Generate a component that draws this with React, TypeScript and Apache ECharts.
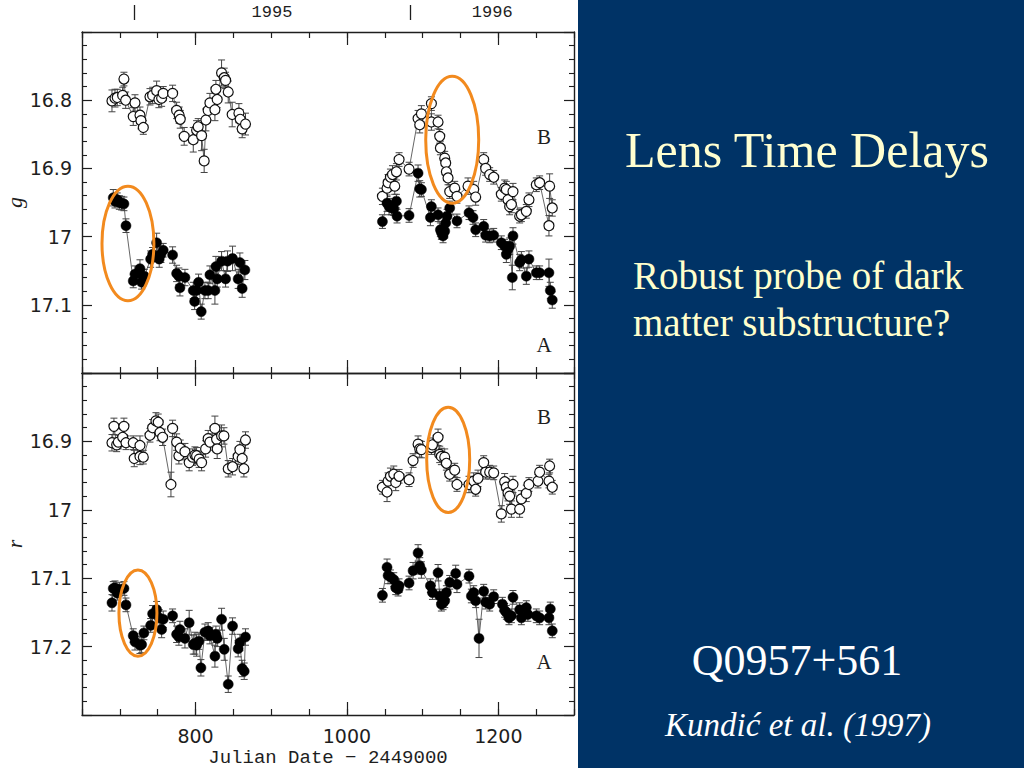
import React, { useEffect, useRef } from 'react';
import * as echarts from 'echarts';

// ---------- data: [Julian Date - 2449000, magnitude, error] ----------
const gB1 = [
  [689.6, 16.801, 0.016], [693.6, 16.797, 0.013], [696.6, 16.796, 0.012], [703.7, 16.793, 0.012],
  [705.4, 16.769, 0.010], [707.7, 16.8, 0.012], [717.7, 16.824, 0.013], [720.0, 16.804, 0.012],
  [726.6, 16.822, 0.012], [727.9, 16.83, 0.012], [731.0, 16.84, 0.010], [739.8, 16.795, 0.012],
  [743.3, 16.793, 0.012], [748.6, 16.786, 0.014], [751.6, 16.799, 0.012], [755.2, 16.797, 0.012],
  [757.3, 16.79, 0.010], [769.7, 16.79, 0.012], [775.0, 16.815, 0.012], [778.4, 16.822, 0.012],
  [779.8, 16.828, 0.013], [785.0, 16.853, 0.013], [797.0, 16.858, 0.018], [801.4, 16.844, 0.014],
  [803.5, 16.839, 0.012], [808.0, 16.852, 0.022], [811.4, 16.889, 0.017], [813.7, 16.829, 0.016],
  [816.7, 16.815, 0.014], [819.0, 16.804, 0.014], [825.6, 16.814, 0.016], [826.9, 16.784, 0.013],
  [828.6, 16.799, 0.012], [834.4, 16.76, 0.019], [837.9, 16.767, 0.014], [839.7, 16.771, 0.012],
  [843.2, 16.788, 0.016], [848.4, 16.821, 0.018], [857.3, 16.819, 0.014], [859.0, 16.828, 0.014],
  [861.6, 16.842, 0.013], [866.0, 16.835, 0.016],
];
const gA1 = [
  [691.3, 16.943, 0.012], [693.6, 16.948, 0.010], [696.6, 16.946, 0.010], [699.3, 16.95, 0.010],
  [702.4, 16.951, 0.010], [705.4, 16.952, 0.010], [708.1, 16.984, 0.010], [717.7, 17.065, 0.010],
  [720.0, 17.055, 0.012], [726.6, 17.047, 0.013], [728.8, 17.067, 0.010], [731.0, 17.06, 0.012],
  [732.3, 17.058, 0.010], [740.7, 17.033, 0.012], [743.3, 17.026, 0.010], [748.6, 17.009, 0.014],
  [752.0, 17.033, 0.012], [754.3, 17.026, 0.012], [757.3, 17.02, 0.010], [769.7, 17.027, 0.012],
  [775.0, 17.054, 0.012], [778.0, 17.058, 0.012], [779.4, 17.075, 0.012], [786.0, 17.06, 0.012],
  [797.0, 17.079, 0.012], [798.8, 17.095, 0.012], [801.4, 17.079, 0.012], [804.0, 17.067, 0.012],
  [807.5, 17.11, 0.011], [812.4, 17.079, 0.012], [816.7, 17.079, 0.012], [819.0, 17.056, 0.013],
  [825.6, 17.079, 0.020], [826.9, 17.044, 0.015], [828.6, 17.062, 0.012], [834.4, 17.036, 0.014],
  [839.7, 17.062, 0.012], [842.3, 17.036, 0.015], [848.9, 17.032, 0.018], [856.3, 17.062, 0.014],
  [858.6, 17.038, 0.014], [861.6, 17.076, 0.013], [865.2, 17.049, 0.014],
];
const gB2 = [
  [1046.9, 16.941, 0.012], [1053.0, 16.929, 0.012], [1054.4, 16.921, 0.012], [1057.5, 16.913, 0.012],
  [1060.2, 16.909, 0.013], [1063.2, 16.926, 0.012], [1065.4, 16.905, 0.012], [1068.9, 16.887, 0.010],
  [1082.1, 16.901, 0.010], [1094.0, 16.827, 0.012], [1096.2, 16.836, 0.012], [1098.4, 16.82, 0.012],
  [1111.6, 16.805, 0.010], [1111.6, 16.832, 0.012], [1120.4, 16.832, 0.010], [1122.6, 16.853, 0.010],
  [1123.5, 16.87, 0.010], [1129.2, 16.885, 0.010], [1130.5, 16.892, 0.010], [1131.4, 16.905, 0.012],
  [1133.6, 16.914, 0.010], [1135.8, 16.934, 0.010], [1142.4, 16.929, 0.010], [1145.4, 16.941, 0.010],
  [1160.0, 16.926, 0.012], [1167.5, 16.931, 0.012], [1170.1, 16.942, 0.012], [1180.7, 16.887, 0.010],
  [1183.3, 16.9, 0.010], [1188.6, 16.909, 0.010], [1193.9, 16.913, 0.010], [1204.0, 16.938, 0.010],
  [1208.4, 16.929, 0.012], [1210.6, 16.931, 0.012], [1212.8, 16.946, 0.012], [1215.0, 16.956, 0.012],
  [1217.3, 16.953, 0.012], [1219.4, 16.934, 0.012], [1228.2, 16.97, 0.010], [1230.5, 16.968, 0.010],
  [1237.0, 16.963, 0.010], [1240.5, 16.946, 0.010], [1250.2, 16.924, 0.010], [1254.6, 16.921, 0.010],
  [1266.9, 16.984, 0.015], [1267.8, 16.926, 0.018], [1271.3, 16.958, 0.012],
];
const gA2 = [
  [1046.9, 16.978, 0.010], [1053.0, 16.951, 0.012], [1055.7, 16.956, 0.012], [1058.8, 16.958, 0.010],
  [1061.9, 16.959, 0.010], [1065.4, 16.948, 0.010], [1066.2, 16.97, 0.010], [1082.1, 16.969, 0.010],
  [1094.0, 16.907, 0.012], [1096.2, 16.93, 0.012], [1098.4, 16.931, 0.010], [1110.3, 16.972, 0.012],
  [1111.6, 16.956, 0.010], [1120.4, 16.968, 0.010], [1123.5, 16.99, 0.010], [1124.8, 16.994, 0.010],
  [1127.0, 16.999, 0.010], [1129.2, 16.992, 0.010], [1130.5, 16.98, 0.010], [1132.3, 16.97, 0.010],
  [1135.8, 16.958, 0.010], [1145.4, 16.977, 0.010], [1161.3, 16.965, 0.010], [1166.6, 16.972, 0.010],
  [1170.1, 16.99, 0.010], [1180.7, 16.985, 0.010], [1183.3, 16.998, 0.010], [1188.6, 16.999, 0.010],
  [1193.9, 16.998, 0.010], [1204.0, 17.009, 0.010], [1208.4, 17.014, 0.010], [1210.6, 17.026, 0.012],
  [1212.8, 17.019, 0.012], [1215.0, 17.014, 0.012], [1218.5, 17.06, 0.018], [1219.4, 16.999, 0.012],
  [1228.2, 17.038, 0.012], [1230.5, 17.034, 0.012], [1237.0, 17.058, 0.012], [1240.5, 17.033, 0.012],
  [1250.2, 17.053, 0.010], [1254.6, 17.053, 0.010], [1266.9, 17.053, 0.020], [1268.7, 17.079, 0.012],
  [1271.3, 17.093, 0.012],
];
const rB1 = [
  [689.6, 16.902, 0.012], [692.2, 16.878, 0.012], [695.8, 16.905, 0.010], [697.9, 16.901, 0.010],
  [703.7, 16.894, 0.012], [705.4, 16.878, 0.012], [708.1, 16.902, 0.010], [717.7, 16.902, 0.010],
  [719.0, 16.925, 0.012], [726.6, 16.906, 0.014], [726.6, 16.922, 0.012], [731.0, 16.923, 0.010],
  [739.8, 16.891, 0.010], [743.3, 16.88, 0.012], [747.7, 16.87, 0.012], [750.7, 16.872, 0.012],
  [753.0, 16.887, 0.012], [756.5, 16.894, 0.012], [767.5, 16.963, 0.018], [769.7, 16.881, 0.012],
  [775.0, 16.901, 0.012], [778.0, 16.921, 0.012], [779.8, 16.91, 0.012], [786.0, 16.915, 0.012],
  [791.6, 16.931, 0.012], [796.1, 16.923, 0.012], [799.2, 16.92, 0.012], [801.4, 16.921, 0.012],
  [804.8, 16.926, 0.012], [808.0, 16.931, 0.012], [813.3, 16.911, 0.012], [816.7, 16.896, 0.012],
  [819.0, 16.901, 0.012], [825.6, 16.881, 0.018], [827.8, 16.897, 0.012], [828.6, 16.911, 0.014],
  [834.4, 16.892, 0.016], [837.5, 16.892, 0.012], [843.2, 16.94, 0.012], [848.9, 16.937, 0.012],
  [856.3, 16.922, 0.012], [858.6, 16.912, 0.012], [861.6, 16.925, 0.012], [863.9, 16.94, 0.012],
  [866.0, 16.898, 0.012],
];
const rA1 = [
  [689.6, 17.136, 0.012], [691.3, 17.115, 0.010], [693.6, 17.114, 0.010], [696.6, 17.122, 0.010],
  [699.3, 17.116, 0.010], [705.4, 17.115, 0.010], [708.1, 17.139, 0.010], [717.7, 17.184, 0.010],
  [720.0, 17.193, 0.012], [726.6, 17.198, 0.012], [728.8, 17.197, 0.012], [731.8, 17.18, 0.010],
  [740.7, 17.169, 0.010], [743.3, 17.152, 0.012], [748.6, 17.146, 0.012], [752.0, 17.158, 0.012],
  [755.2, 17.175, 0.012], [757.3, 17.16, 0.012], [769.7, 17.155, 0.010], [775.0, 17.182, 0.012],
  [778.0, 17.186, 0.012], [779.4, 17.175, 0.012], [786.0, 17.188, 0.014], [791.6, 17.165, 0.018],
  [797.0, 17.197, 0.014], [799.2, 17.195, 0.016], [801.4, 17.198, 0.016], [804.5, 17.192, 0.012],
  [807.1, 17.231, 0.012], [812.4, 17.179, 0.012], [816.7, 17.177, 0.012], [819.0, 17.184, 0.012],
  [825.6, 17.214, 0.016], [826.9, 17.182, 0.012], [828.6, 17.188, 0.012], [834.4, 17.16, 0.016],
  [837.9, 17.204, 0.016], [843.2, 17.255, 0.012], [848.9, 17.17, 0.012], [856.3, 17.203, 0.012],
  [858.6, 17.194, 0.012], [861.6, 17.232, 0.012], [864.3, 17.236, 0.012], [866.0, 17.186, 0.012],
];
const rB2 = [
  [1046.9, 16.967, 0.010], [1053.0, 16.974, 0.014], [1054.4, 16.958, 0.012], [1057.5, 16.951, 0.012],
  [1061.9, 16.948, 0.012], [1064.5, 16.96, 0.012], [1068.9, 16.951, 0.010], [1082.1, 16.956, 0.010],
  [1087.4, 16.928, 0.010], [1094.0, 16.904, 0.012], [1096.2, 16.911, 0.012], [1098.4, 16.912, 0.012],
  [1111.6, 16.909, 0.010], [1113.0, 16.905, 0.010], [1120.4, 16.894, 0.012], [1122.6, 16.919, 0.012],
  [1124.8, 16.922, 0.012], [1129.2, 16.923, 0.012], [1131.4, 16.932, 0.010], [1135.8, 16.948, 0.010],
  [1142.4, 16.942, 0.010], [1145.4, 16.963, 0.010], [1161.3, 16.963, 0.012], [1167.5, 16.958, 0.012],
  [1170.1, 16.97, 0.010], [1173.2, 16.954, 0.012], [1180.7, 16.931, 0.010], [1183.3, 16.945, 0.010],
  [1188.6, 16.945, 0.010], [1193.9, 16.946, 0.010], [1204.0, 17.006, 0.012], [1208.4, 16.959, 0.012],
  [1210.6, 16.967, 0.012], [1212.8, 16.975, 0.012], [1215.0, 16.98, 0.012], [1217.3, 16.999, 0.012],
  [1219.4, 16.963, 0.012], [1228.2, 16.999, 0.012], [1230.5, 16.984, 0.012], [1237.0, 16.976, 0.012],
  [1240.5, 16.963, 0.010], [1252.4, 16.958, 0.010], [1254.6, 16.945, 0.010], [1266.9, 16.958, 0.010],
  [1267.8, 16.936, 0.010], [1271.3, 16.967, 0.010],
];
const rA2 = [
  [1046.9, 17.125, 0.010], [1053.0, 17.084, 0.012], [1054.4, 17.096, 0.012], [1057.5, 17.098, 0.010],
  [1061.9, 17.102, 0.010], [1064.5, 17.114, 0.010], [1067.6, 17.116, 0.010], [1068.9, 17.111, 0.010],
  [1082.1, 17.107, 0.010], [1087.4, 17.089, 0.012], [1094.0, 17.063, 0.012], [1096.2, 17.082, 0.012],
  [1098.4, 17.088, 0.012], [1110.3, 17.111, 0.010], [1113.0, 17.121, 0.010], [1120.4, 17.092, 0.012],
  [1122.6, 17.126, 0.010], [1124.8, 17.138, 0.010], [1127.0, 17.136, 0.010], [1129.2, 17.133, 0.010],
  [1131.4, 17.121, 0.010], [1135.8, 17.106, 0.010], [1143.7, 17.093, 0.012], [1145.4, 17.109, 0.012],
  [1161.3, 17.097, 0.010], [1164.4, 17.126, 0.010], [1167.5, 17.121, 0.010], [1170.1, 17.133, 0.010],
  [1174.5, 17.188, 0.028], [1180.7, 17.119, 0.010], [1183.3, 17.135, 0.010], [1188.6, 17.138, 0.010],
  [1193.9, 17.127, 0.010], [1205.4, 17.138, 0.010], [1208.4, 17.147, 0.010], [1210.6, 17.15, 0.010],
  [1214.1, 17.158, 0.010], [1217.3, 17.155, 0.010], [1219.4, 17.128, 0.010], [1228.2, 17.146, 0.010],
  [1230.5, 17.158, 0.010], [1237.0, 17.143, 0.010], [1239.1, 17.153, 0.010], [1250.2, 17.155, 0.010],
  [1254.6, 17.158, 0.010], [1266.9, 17.158, 0.010], [1268.7, 17.145, 0.010], [1271.3, 17.177, 0.010],
];

// orange annotation ellipses: [centre date, centre mag, half-width (days), half-height (mag)]
const gEllipses = [[710.7, 17.01, 34.3, 0.084], [1139.1, 16.858, 35.0, 0.093]];
const rEllipses = [[723.9, 17.151, 25.1, 0.063], [1133.8, 16.927, 28.4, 0.077]];

// axes
const X_MIN = 650;
const X_MAX = 1300;
const xMajorTicks = [800, 1000, 1200];
const yearBoundaries = [718.5, 1083.5];
const yearLabelPos = [901, 1192];
const yearLabels = ['1995', '1996'];
const gRange = [16.7, 17.2];
const rRange = [16.8, 17.3];

const INK = '#1e1e1e';
const ORANGE = '#F28A1E';
const NAVY = '#003366';

function xAxisBase(grid: number, position: string) {
  return {
    type: 'value', gridIndex: grid, position, min: X_MIN, max: X_MAX,
    splitLine: { show: false },
    axisLine: { show: true, onZero: false, lineStyle: { color: INK, width: 1.4 } },
    axisLabel: { show: false },
  };
}
function xShort(grid: number, position: string) {
  return { ...xAxisBase(grid, position), interval: 50, axisTick: { show: true, inside: true, length: 6, lineStyle: { color: INK, width: 1.2 } } };
}
function xLong(grid: number, position: string, labels: boolean) {
  return {
    ...xAxisBase(grid, position),
    axisLine: { show: false, onZero: false },
    axisTick: { show: true, inside: true, length: 13, customValues: xMajorTicks, lineStyle: { color: INK, width: 1.2 } },
    axisLabel: labels
      ? {
          show: true, customValues: xMajorTicks, margin: 11, fontFamily: 'DejaVu Sans', fontSize: 19, color: INK,
          formatter: (v: number) => String(v),
        }
      : { show: false },
  };
}
function yAxis(grid: number, position: string, range: number[], name: string) {
  const left = position === 'left';
  return {
    type: 'value', gridIndex: grid, position, inverse: true, min: range[0], max: range[1], interval: 0.1,
    splitLine: { show: false },
    axisLine: { show: true, onZero: false, lineStyle: { color: INK, width: 1.4 } },
    axisTick: { show: true, inside: true, length: 10, lineStyle: { color: INK, width: 1.2 } },
    minorTick: { show: true, splitNumber: 5, length: 5, lineStyle: { color: INK, width: 1.1 } },
    axisLabel: left
      ? { show: true, showMinLabel: false, showMaxLabel: false, margin: 10, fontFamily: 'DejaVu Sans', fontSize: 19, color: INK }
      : { show: false },
    name: left ? name : '',
    nameLocation: 'middle', nameGap: 57, nameRotate: 90,
    nameTextStyle: { fontFamily: 'Liberation Serif', fontStyle: 'italic', fontSize: 22, color: INK },
  };
}

function lineSeries(data: number[][], xi: number, yi: number) {
  return {
    type: 'line', data, xAxisIndex: xi, yAxisIndex: yi, showSymbol: false, symbol: 'none',
    lineStyle: { color: '#555', width: 0.9 }, z: 1, silent: true,
  };
}
function errSeries(data: number[][], xi: number, yi: number) {
  return {
    type: 'custom', data, xAxisIndex: xi, yAxisIndex: yi, encode: { x: 0, y: 1 }, z: 2, silent: true,
    renderItem: (_p: any, api: any) => {
      const x = api.value(0), y = api.value(1), e = api.value(2);
      const hi = api.coord([x, y - e]);
      const lo = api.coord([x, y + e]);
      const w = 3.5;
      const st = { stroke: '#444', lineWidth: 1 };
      return {
        type: 'group', children: [
          { type: 'line', shape: { x1: hi[0], y1: hi[1], x2: lo[0], y2: lo[1] }, style: st },
          { type: 'line', shape: { x1: hi[0] - w, y1: hi[1], x2: hi[0] + w, y2: hi[1] }, style: st },
          { type: 'line', shape: { x1: lo[0] - w, y1: lo[1], x2: lo[0] + w, y2: lo[1] }, style: st },
        ],
      };
    },
  };
}
function dotSeries(data: number[][], xi: number, yi: number, open: boolean) {
  return {
    type: 'scatter', data, xAxisIndex: xi, yAxisIndex: yi, symbol: 'circle', symbolSize: 10, z: open ? 3 : 4,
    itemStyle: open
      ? { color: '#fff', borderColor: '#111', borderWidth: 1.2, opacity: 1 }
      : { color: '#000', borderColor: '#000', borderWidth: 0.5, opacity: 1 },
    silent: true,
  };
}
function ellipseSeries(data: number[][], xi: number, yi: number) {
  return {
    type: 'custom', data, xAxisIndex: xi, yAxisIndex: yi, encode: { x: 0, y: 1 }, z: 6, silent: true,
    renderItem: (_p: any, api: any) => {
      const cx = api.value(0), cy = api.value(1), rx = api.value(2), ry = api.value(3);
      const c = api.coord([cx, cy]);
      const a = api.coord([cx + rx, cy]);
      const b = api.coord([cx, cy + ry]);
      return {
        type: 'ellipse',
        shape: { cx: c[0], cy: c[1], rx: Math.abs(a[0] - c[0]), ry: Math.abs(b[1] - c[1]) },
        style: { fill: 'none', stroke: ORANGE, lineWidth: 3 },
      };
    },
  };
}

function txt(text: string, x: number, y: number, size: number, color: string, family: string, align = 'center', italic = false) {
  return {
    type: 'text', x, y, z: 20, silent: true,
    style: {
      text, fill: color, fontSize: size, fontFamily: family, fontStyle: italic ? 'italic' : 'normal',
      align, textAlign: align, verticalAlign: 'middle', textVerticalAlign: 'middle',
    },
  };
}

export default function App() {
  const ref = useRef<HTMLDivElement>(null);
  useEffect(() => {
    const chart = echarts.init(ref.current!, null, { renderer: 'svg', width: 1024, height: 768 });
    const option: any = {
      animation: false,
      backgroundColor: '#ffffff',
      grid: [
        { left: 82, top: 32, width: 492, height: 341, outerBoundsMode: 'none' },
        { left: 82, top: 373, width: 492, height: 342, outerBoundsMode: 'none' },
      ],
      xAxis: [
        xShort(0, 'bottom'), // 0
        xShort(0, 'top'), // 1
        xLong(0, 'bottom', false), // 2
        xLong(0, 'top', false), // 3
        { // 4 year boundary marks
          ...xAxisBase(0, 'top'), offset: 12,
          axisLine: { show: false, onZero: false },
          axisTick: { show: true, inside: false, length: 15, customValues: yearBoundaries, lineStyle: { color: INK, width: 1.3 } },
        },
        { // 5 year labels
          ...xAxisBase(0, 'top'),
          axisLine: { show: false, onZero: false },
          axisTick: { show: false },
          axisLabel: {
            show: true, customValues: yearLabelPos, margin: 11, fontFamily: 'Liberation Mono', fontSize: 17, color: INK,
            formatter: (v: number) => { const i = yearLabelPos.indexOf(v); return i >= 0 ? yearLabels[i] : ''; },
          },
        },
        xShort(1, 'bottom'), // 6
        xShort(1, 'top'), // 7
        { // 8
          ...xLong(1, 'bottom', true),
          name: 'Julian Date \u2212 2449000', nameLocation: 'middle', nameGap: 33,
          nameTextStyle: { fontFamily: 'Liberation Mono', fontSize: 19, color: INK },
        },
        xLong(1, 'top', false), // 9
      ],
      yAxis: [
        yAxis(0, 'left', gRange, 'g'),
        yAxis(0, 'right', gRange, ''),
        yAxis(1, 'left', rRange, 'r'),
        yAxis(1, 'right', rRange, ''),
      ],
      series: [
        lineSeries(gA1, 0, 0), lineSeries(gA2, 0, 0), lineSeries(gB1, 0, 0), lineSeries(gB2, 0, 0),
        errSeries(gA1.concat(gA2), 0, 0), errSeries(gB1.concat(gB2), 0, 0),
        dotSeries(gB1.concat(gB2), 0, 0, true), dotSeries(gA1.concat(gA2), 0, 0, false),
        ellipseSeries(gEllipses, 0, 0),
        lineSeries(rA1, 6, 2), lineSeries(rA2, 6, 2), lineSeries(rB1, 6, 2), lineSeries(rB2, 6, 2),
        errSeries(rA1.concat(rA2), 6, 2), errSeries(rB1.concat(rB2), 6, 2),
        dotSeries(rB1.concat(rB2), 6, 2, true), dotSeries(rA1.concat(rA2), 6, 2, false),
        ellipseSeries(rEllipses, 6, 2),
      ],
      graphic: [
        { type: 'rect', shape: { x: 578, y: 0, width: 446, height: 768 }, style: { fill: NAVY }, z: 10, silent: true },
        txt('B', 544, 137, 21, INK, 'Liberation Serif'),
        txt('A', 544, 345, 21, INK, 'Liberation Serif'),
        txt('B', 544, 417, 21, INK, 'Liberation Serif'),
        txt('A', 544, 662, 21, INK, 'Liberation Serif'),
        txt('Lens Time Delays', 807, 150, 50, '#FFFFD0', 'Liberation Serif'),
        txt('Robust probe of dark', 633, 275, 39, '#FFFFCC', 'Liberation Serif', 'left'),
        txt('matter substructure?', 633, 322, 39, '#FFFFCC', 'Liberation Serif', 'left'),
        txt('Q0957+561', 797, 660, 44, '#FFFFFF', 'Liberation Serif'),
        txt('Kundi\u0107 et al. (1997)', 798, 725, 33, '#FFFFFF', 'Liberation Serif', 'center', true),
      ],
    };
    chart.setOption(option);
    return () => chart.dispose();
  }, []);
  return <div ref={ref} style={{ position: 'fixed', left: 0, top: 0, width: 1024, height: 768 }} />;
}
